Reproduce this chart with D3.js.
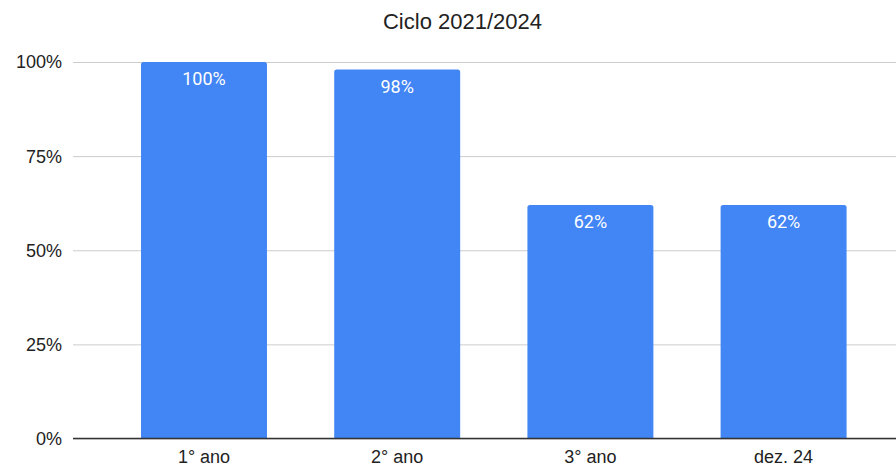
<!DOCTYPE html>
<html>
<head>
<meta charset="utf-8">
<script src="https://cdn.jsdelivr.net/npm/d3@7"></script>
<style>
  html, body { margin: 0; padding: 0; background: #fff; }
  svg { display: block; }
</style>
</head>
<body>
<div id="chart"></div>
<script>
// Chart data
const categories = ["1° ano", "2° ano", "3° ano", "dez. 24"];
const values = [1.00, 0.98, 0.62, 0.62];
const yTicks = [0, 0.25, 0.5, 0.75, 1.0];
const chartTitle = "Ciclo 2021/2024";

const width = 896, height = 466;
const plot = { left: 73, right: 896, top: 62, bottom: 438.5 };

const svg = d3.select("#chart").append("svg")
  .attr("width", width).attr("height", height);

const y = d3.scaleLinear().domain([0, 1]).range([plot.bottom, plot.top]);
const x = d3.scaleBand().domain(categories)
  .range([107.4, 880.2])
  .paddingInner(0.348).paddingOuter(0.174);

const pct = d3.format(".0%");

// Title
svg.append("text")
  .attr("x", 462.5).attr("y", 28.5)
  .attr("text-anchor", "middle")
  .attr("font-family", "'Liberation Sans', Arial, sans-serif")
  .attr("font-size", 22).attr("fill", "#222")
  .text(chartTitle);

// Gridlines and y tick labels
const yAxis = d3.axisLeft(y).tickValues(yTicks).tickFormat(pct)
  .tickSize(-(plot.right - plot.left)).tickPadding(11);
const gy = svg.append("g").attr("transform", `translate(${plot.left},0)`).call(yAxis);
gy.select(".domain").remove();
gy.selectAll(".tick line").attr("stroke", "#cccccc").attr("stroke-width", 1);
gy.selectAll(".tick text")
  .attr("font-family", "'Liberation Sans', Arial, sans-serif")
  .attr("font-size", 18).attr("fill", "#222")
  .attr("dy", "0.33em");

// Bars with slightly rounded tops
const r = 2.5;
svg.append("g").selectAll("path").data(values).join("path")
  .attr("fill", "#4285f4")
  .attr("d", (d, i) => {
    const x0 = x(categories[i]), w = x.bandwidth();
    const y0 = y(d), yb = y(0);
    return `M${x0},${yb} V${y0 + r} Q${x0},${y0} ${x0 + r},${y0} H${x0 + w - r} Q${x0 + w},${y0} ${x0 + w},${y0 + r} V${yb} Z`;
  });

// Value labels inside the bars
svg.append("g").selectAll("text").data(values).join("text")
  .attr("x", (d, i) => x(categories[i]) + x.bandwidth() / 2)
  .attr("y", d => y(d) + 23)
  .attr("text-anchor", "middle")
  .attr("font-family", "Roboto, 'Liberation Sans', sans-serif")
  .attr("font-size", 18).attr("fill", "#ffffff")
  .text(d => pct(d));

// Baseline axis with category labels
const xAxis = d3.axisBottom(x).tickSize(0).tickPadding(0);
const gx = svg.append("g").attr("transform", `translate(0,${plot.bottom})`).call(xAxis);
gx.select(".domain").remove();
gx.selectAll(".tick text")
  .attr("font-family", "'Liberation Sans', Arial, sans-serif")
  .attr("font-size", 18).attr("fill", "#222")
  .attr("dy", 0).attr("y", 24.5);
svg.append("line")
  .attr("x1", plot.left).attr("x2", plot.right)
  .attr("y1", plot.bottom).attr("y2", plot.bottom)
  .attr("stroke", "#333").attr("stroke-width", 1.5);
</script>
</body>
</html>
